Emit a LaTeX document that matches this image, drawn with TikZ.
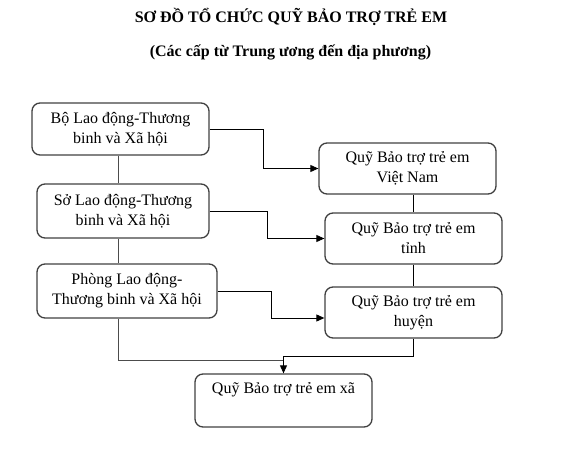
\documentclass[tikz,border=0pt]{standalone}
\usepackage{fontspec}
\setmainfont{Liberation Serif}
\usetikzlibrary{arrows.meta}
\tikzset{
  box/.style={draw=black!75, line width=1.3pt, rounded corners=8pt, inner sep=0pt,
    align=center, font=\fontsize{16}{20}\selectfont},
  conn/.style={draw=black, line width=0.9pt},
  arr/.style={conn, -{Triangle[length=8pt,width=7pt]}},
  spine/.style={draw=black!70, line width=1pt},
  ttl/.style={font=\fontsize{16}{20}\selectfont\bfseries, inner sep=0pt}
}
\begin{document}
\begin{tikzpicture}[x=1pt,y=-1pt]
\useasboundingbox (0,0) rectangle (573,458);
\node[ttl] (t1) at (291,17) {SƠ ĐỒ TỔ CHỨC QUỸ BẢO TRỢ TRẺ EM};
\node[ttl] (t2) at (290.5,52) {(Các cấp từ Trung ương đến địa phương)};

\node[box, minimum width=177pt, minimum height=52pt] (b1) at (120.5,129) {Bộ Lao động-Thương\\binh và Xã hội};
\node[box, minimum width=172pt, minimum height=54pt] (b2) at (123,211) {Sở Lao động-Thương\\binh và Xã hội};
\node[box, minimum width=180pt, minimum height=54pt] (b3) at (127,291) {Phòng Lao động-\\Thương binh và Xã hội};

\node[box, minimum width=177pt, minimum height=51pt] (r1) at (407.5,168.5) {Quỹ Bảo trợ trẻ em\\Việt Nam};
\node[box, minimum width=177pt, minimum height=51pt] (r2) at (413.5,238.5) {Quỹ Bảo trợ trẻ em\\tỉnh};
\node[box, minimum width=177pt, minimum height=51pt] (r3) at (413.5,312.5) {Quỹ Bảo trợ trẻ em\\huyện};

\node[box, minimum width=177pt, minimum height=53pt] (xa) at (283.5,400.5) {Quỹ Bảo trợ trẻ em xã\\\strut};

\coordinate (ls) at (118,0);
\coordinate (jl) at (118,360);

\draw[arr] (b1.east) -- ++(54,0) |- (r1.west);
\draw[arr] (b2.east) -- ++(58,0) |- (r2.west);
\draw[arr] (b3.east) -- ++(54,0) |- ([yshift=-5.5pt]r3.west);

\draw[spine] (b1.south -| ls) -- (b2.north -| ls);
\draw[spine] (b2.south -| ls) -- (b3.north -| ls);
\draw[spine] (b3.south -| ls) -- (jl) -- (jl -| xa.north);

\draw[conn] (r1.south -| r2.north) -- (r2.north);
\draw[conn] (r2.south) -- (r3.north);
\draw[arr] (r3.south) -- ++(0,18) -| (xa.north);
\end{tikzpicture}
\end{document}
